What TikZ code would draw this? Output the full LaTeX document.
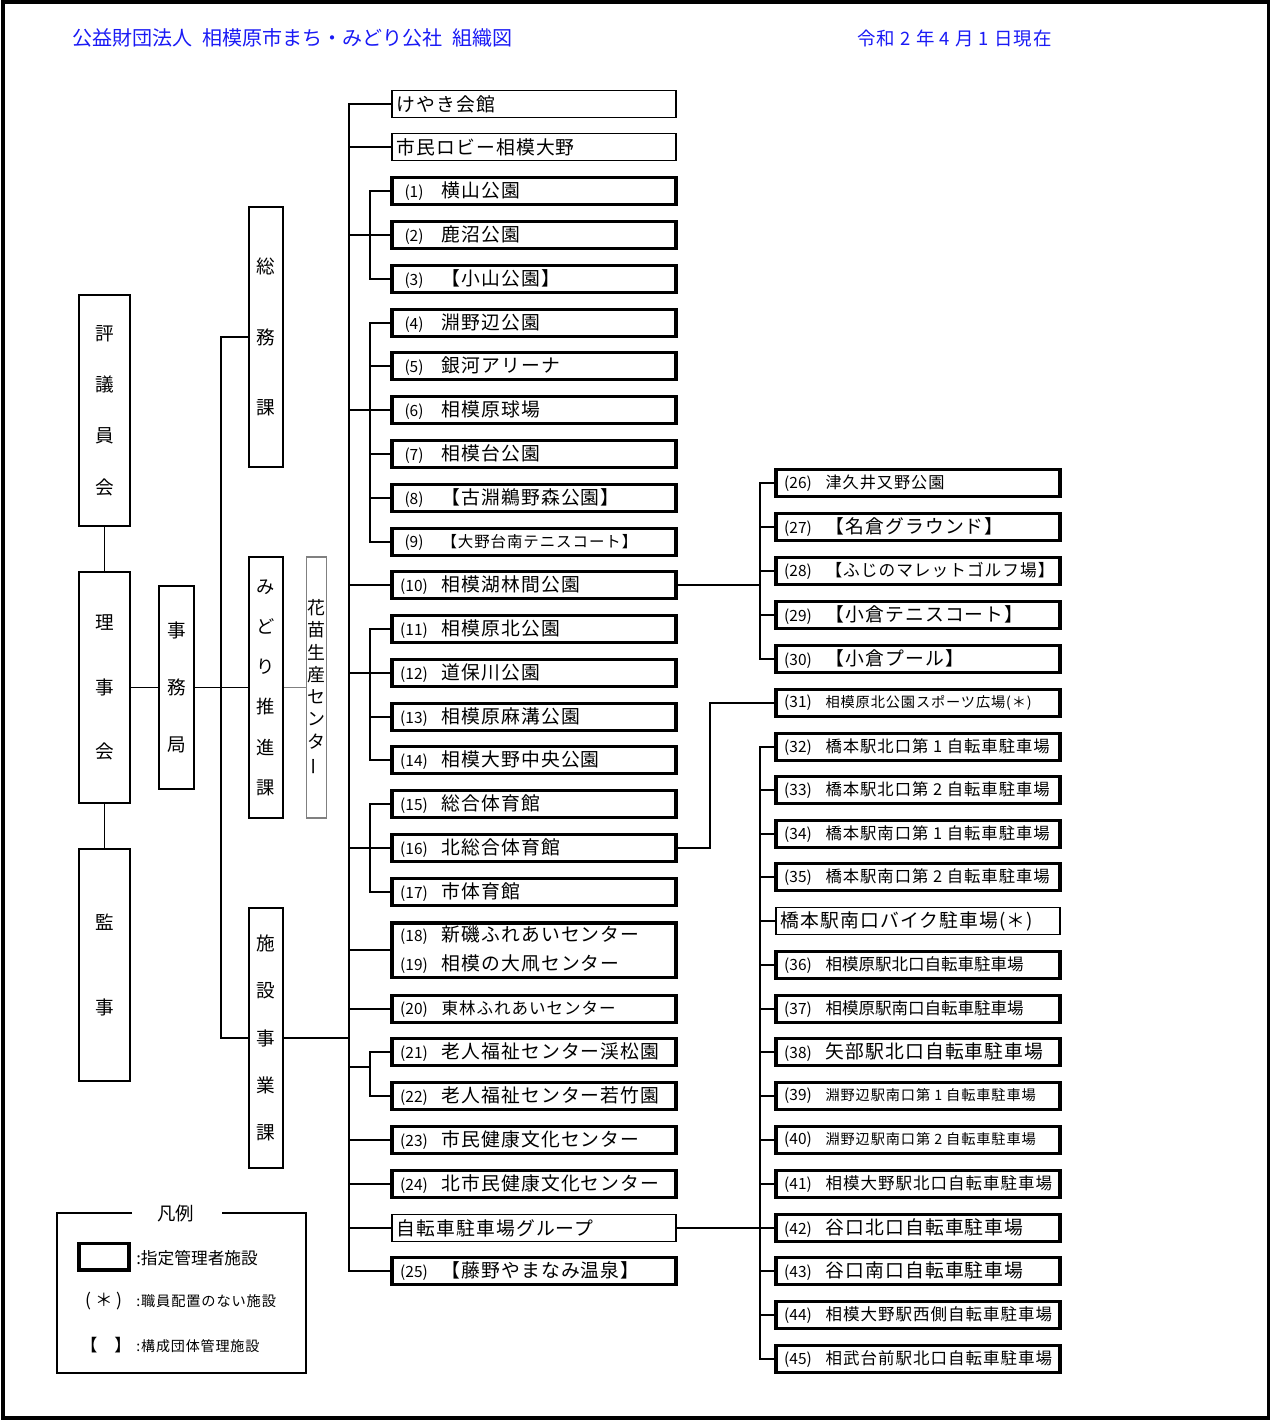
\documentclass[tikz,border=0pt]{standalone}
\usepackage{fontspec}
\setmainfont{Noto Sans CJK JP}
\newfontfamily\jp{Noto Sans CJK JP}
\newfontfamily\jpsp[LetterSpace=6]{Noto Sans CJK JP}
\definecolor{ttlblue}{HTML}{1A1AF5}
\definecolor{subedge}{HTML}{808080}
\newcommand\fsz[2]{\jpsp\fontsize{#1}{#2}\selectfont}
\newcommand\fvz[2]{\jp\fontsize{#1}{#2}\selectfont}
\newcommand\numf{\jp\fontsize{8.8}{10}\selectfont}
\newcommand\nm[2]{\makebox[5.5cm][l]{\makebox[0.7cm][c]{\numf #1}\hspace{0.2cm}#2}}
\newcommand\pl[1]{\makebox[5.5cm][l]{#1}}

\begin{document}
\begin{tikzpicture}[x=0.02cm, y=-0.02cm,
  org/.style={draw, line width=1.2pt, align=center, inner sep=0pt},
  fac/.style={draw, line width=2pt, minimum width=5.68cm, minimum height=0.54cm,
              inner xsep=0.09cm, inner ysep=0pt, font=\fsz{10.7}{12}},
  grp/.style={fac, line width=1.1pt},
  lnk/.style={line width=1.1pt},
  lnkt/.style={line width=0.7pt},
  lab/.style={inner sep=0pt, anchor=west},
]
\useasboundingbox (0,0) rectangle (1272,1421);
\draw[line width=2pt] (3,2) rectangle (1268.5,1418);
% ================= heading ==================================================
\node[lab, text=ttlblue, font=\fvz{11.4}{13}] (title) at (72,38)
  {公益財団法人\hspace{.5em}相模原市まち・みどり公社\hspace{.5em}組織図};
\node[lab, text=ttlblue, font=\fsz{10.5}{12}] (date) at (857,38) {令和 2 年 4 月 1 日現在};
% ================= board / office / sections (left) =========================
\node[org, minimum width=1.02cm, minimum height=4.62cm, font=\fvz{10.6}{29.3}] (hyogi) at (104.5,410.5) {評\\議\\員\\会};
\node[org, minimum width=1.02cm, minimum height=4.62cm, font=\fvz{10.6}{36.6}] (riji) at (104.5,687.5) {理\\事\\会};
\node[org, minimum width=1.02cm, minimum height=4.64cm, font=\fvz{10.6}{48.2}] (kanji) at (104.5,965) {監\\事};
\node[org, minimum width=0.70cm, minimum height=4.06cm, font=\fvz{10.6}{32.6}] (jimu) at (176.5,687.5) {事\\務\\局};
\node[org, minimum width=0.68cm, minimum height=5.20cm, font=\fvz{10.6}{40.3}] (soumu) at (266,337) {総\\務\\課};
\node[org, minimum width=0.68cm, minimum height=5.22cm, font=\fvz{10.4}{22.9}] (midori) at (266,687.5) {み\\ど\\り\\推\\進\\課};
\node[org, minimum width=0.68cm, minimum height=5.20cm, font=\fvz{10.6}{26.9}] (shisetsu) at (266,1038) {施\\設\\事\\業\\課};
\node[org, draw=subedge, line width=1.1pt, minimum width=0.40cm, minimum height=5.22cm,
      font=\fvz{10.2}{12.7}] (kanae) at (316.5,687.5) {花\\苗\\生\\産\\セ\\ン\\タ\\\rotatebox[origin=c]{90}{ー}};
\coordinate (trunk) at (221,688);
\coordinate (spine) at (349,1038);
\draw[lnk] (hyogi.south) -- (riji.north);
\draw[lnk] (riji.south) -- (kanji.north);
\draw[lnk] (riji.east) -- (jimu.west);
\draw[lnk] (jimu.east) -- (midori.west);
\draw[lnk, draw=subedge] (midori.east) -- (kanae.west);
\draw[lnk] (soumu.west) -| (trunk) |- (shisetsu.west);
% ================= facilities (middle column) ===============================
\node[grp] (keyaki) at (534,104) {\pl{けやき会館}};
\node[grp] (lobby) at (534,147) {\pl{市民ロビー相模大野}};
\node[fac] (b1) at (534,191) {\nm{(1)}{横山公園}};
\node[fac] (b2) at (534,235) {\nm{(2)}{鹿沼公園}};
\node[fac] (b3) at (534,279) {\nm{(3)}{【小山公園】}};
\node[fac] (b4) at (534,323) {\nm{(4)}{淵野辺公園}};
\node[fac] (b5) at (534,366) {\nm{(5)}{銀河アリーナ}};
\node[fac] (b6) at (534,410) {\nm{(6)}{相模原球場}};
\node[fac] (b7) at (534,454) {\nm{(7)}{相模台公園}};
\node[fac] (b8) at (534,498) {\nm{(8)}{【古淵鵜野森公園】}};
\node[fac, font=\fsz{8.8}{10}] (b9) at (534,542) {\nm{(9)}{【大野台南テニスコート】}};
\node[fac] (b10) at (534,585) {\nm{(10)}{相模湖林間公園}};
\node[fac] (b11) at (534,629) {\nm{(11)}{相模原北公園}};
\node[fac] (b12) at (534,673) {\nm{(12)}{道保川公園}};
\node[fac] (b13) at (534,717) {\nm{(13)}{相模原麻溝公園}};
\node[fac] (b14) at (534,760) {\nm{(14)}{相模大野中央公園}};
\node[fac] (b15) at (534,804) {\nm{(15)}{総合体育館}};
\node[fac] (b16) at (534,848) {\nm{(16)}{北総合体育館}};
\node[fac] (b17) at (534,892) {\nm{(17)}{市体育館}};
\node[fac, minimum height=1.09cm, align=left, font=\fsz{10.7}{16.4}] (b18) at (534,950)
  {\nm{(18)}{新磯ふれあいセンター}\\\nm{(19)}{相模の大凧センター}};
\node[fac, font=\fsz{9.4}{11}] (b20) at (534,1009) {\nm{(20)}{東林ふれあいセンター}};
\node[fac] (b21) at (534,1052) {\nm{(21)}{老人福祉センター渓松園}};
\node[fac] (b22) at (534,1096) {\nm{(22)}{老人福祉センター若竹園}};
\node[fac] (b23) at (534,1140) {\nm{(23)}{市民健康文化センター}};
\node[fac] (b24) at (534,1184) {\nm{(24)}{北市民健康文化センター}};
\node[grp] (bike) at (534,1228) {\pl{自転車駐車場グループ}};
\node[fac] (b25) at (534,1271) {\nm{(25)}{【藤野やまなみ温泉】}};
% ================= facilities (right column) ================================
\node[fac, font=\fsz{9.2}{11}] (b26) at (918,483) {\nm{(26)}{津久井又野公園}};
\node[fac] (b27) at (918,527) {\nm{(27)}{【名倉グラウンド】}};
\node[fac, font=\fsz{9.5}{11}] (b28) at (918,571) {\nm{(28)}{【ふじのマレットゴルフ場】}};
\node[fac] (b29) at (918,615) {\nm{(29)}{【小倉テニスコート】}};
\node[fac] (b30) at (918,659) {\nm{(30)}{【小倉プール】}};
\node[fac, font=\fsz{8.1}{10}] (b31) at (918,703) {\nm{(31)}{相模原北公園スポーツ広場(＊)}};
\node[fac, font=\fsz{9.3}{11}] (b32) at (918,747) {\nm{(32)}{橋本駅北口第 1 自転車駐車場}};
\node[fac, font=\fsz{9.3}{11}] (b33) at (918,790) {\nm{(33)}{橋本駅北口第 2 自転車駐車場}};
\node[fac, font=\fsz{9.3}{11}] (b34) at (918,834) {\nm{(34)}{橋本駅南口第 1 自転車駐車場}};
\node[fac, font=\fsz{9.3}{11}] (b35) at (918,877) {\nm{(35)}{橋本駅南口第 2 自転車駐車場}};
\node[grp] (hbike) at (918,921) {\pl{橋本駅南口バイク駐車場(＊)}};
\node[fac, font=\fvz{9.4}{11}] (b36) at (918,965) {\nm{(36)}{相模原駅北口自転車駐車場}};
\node[fac, font=\fvz{9.4}{11}] (b37) at (918,1009) {\nm{(37)}{相模原駅南口自転車駐車場}};
\node[fac] (b38) at (918,1052) {\nm{(38)}{矢部駅北口自転車駐車場}};
\node[fac, font=\fsz{8.1}{10}] (b39) at (918,1096) {\nm{(39)}{淵野辺駅南口第 1 自転車駐車場}};
\node[fac, font=\fsz{8.1}{10}] (b40) at (918,1140) {\nm{(40)}{淵野辺駅南口第 2 自転車駐車場}};
\node[fac, font=\fsz{9.4}{11}] (b41) at (918,1184) {\nm{(41)}{相模大野駅北口自転車駐車場}};
\node[fac] (b42) at (918,1228) {\nm{(42)}{谷口北口自転車駐車場}};
\node[fac] (b43) at (918,1271) {\nm{(43)}{谷口南口自転車駐車場}};
\node[fac, font=\fsz{9.4}{11}] (b44) at (918,1315) {\nm{(44)}{相模大野駅西側自転車駐車場}};
\node[fac, font=\fsz{9.4}{11}] (b45) at (918,1359) {\nm{(45)}{相武台前駅北口自転車駐車場}};
% ================= connectors ==============================================
\coordinate (subL) at (370,0);
\coordinate (subR) at (760,0);
\coordinate (j31) at (710,703);
\coordinate (j2122) at (370,1067);
\draw[lnk] (shisetsu.east) -- (spine);
\draw[lnk] (keyaki.west) -| (spine) |- (b25.west);
\draw[lnk] (lobby.west -| spine) -- (lobby.west)
           (b18.west -| spine) -- (b18.west)
           (b20.west -| spine) -- (b20.west)
           (b23.west -| spine) -- (b23.west)
           (b24.west -| spine) -- (b24.west)
           (bike.west -| spine) -- (bike.west);
\draw[lnk] (b1.west) -| (subL |- b3.west) -- (b3.west);
\draw[lnk] (b2.west -| spine) -- (b2.west);
\draw[lnk] (b4.west) -| (subL |- b9.west) -- (b9.west);
\draw[lnk] (b5.west) -- (b5.west -| subL) (b7.west) -- (b7.west -| subL) (b8.west) -- (b8.west -| subL);
\draw[lnk] (b6.west -| spine) -- (b6.west);
\draw[lnkt] (b10.west -| spine) -- (b10.west);
\draw[lnk] (b11.west) -| (subL |- b14.west) -- (b14.west);
\draw[lnk] (b13.west) -- (b13.west -| subL);
\draw[lnk] (b12.west -| spine) -- (b12.west);
\draw[lnk] (b15.west) -| (subL |- b17.west) -- (b17.west);
\draw[lnk] (b16.west -| spine) -- (b16.west);
\draw[lnk] (b21.west) -| (subL |- b22.west) -- (b22.west);
\draw[lnk] (spine |- j2122) -- (j2122);
% right side
\draw[lnkt] (b10.east) -- (b10.east -| subR);
\draw[lnk] (b26.west) -| (subR |- b30.west) -- (b30.west);
\draw[lnk] (b27.west) -- (b27.west -| subR) (b28.west) -- (b28.west -| subR) (b29.west) -- (b29.west -| subR);
\draw[lnk] (b16.east) -| (j31) -- (b31.west);
\draw[lnk] (bike.east) -- (bike.east -| subR);
\draw[lnk] (b32.west) -| (subR |- b45.west) -- (b45.west);
\draw[lnk] (b33.west) -- (b33.west -| subR) (b34.west) -- (b34.west -| subR)
           (b35.west) -- (b35.west -| subR) (hbike.west) -- (hbike.west -| subR)
           (b36.west) -- (b36.west -| subR) (b37.west) -- (b37.west -| subR)
           (b38.west) -- (b38.west -| subR) (b39.west) -- (b39.west -| subR)
           (b40.west) -- (b40.west -| subR) (b41.west) -- (b41.west -| subR)
           (b42.west) -- (b42.west -| subR) (b43.west) -- (b43.west -| subR)
           (b44.west) -- (b44.west -| subR);
% ================= legend ===================================================
\node[font=\fvz{10.5}{12}, inner sep=0pt] (legt) at (175.5,1214) {凡例};
\draw[lnk] (132,1213) -- (57,1213) -- (57,1373) -- (306,1373) -- (306,1213) -- (222,1213);
\node[draw, line width=2pt, minimum width=1.01cm, minimum height=0.53cm] (legbox) at (104,1256.5) {};
\node[lab, font=\fvz{9.5}{11}] (leg1) at (136,1258) {:指定管理者施設};
\node[font=\fvz{10}{11}, inner sep=0pt] (legstar) at (104,1301) {( ＊ )};
\node[lab, font=\fsz{8.1}{10}] (leg2) at (136,1301.5) {:職員配置のない施設};
\node[font=\fvz{9.6}{11}, inner sep=0pt] (legbr) at (106,1345) {【　】};
\node[lab, font=\fsz{8}{10}] (leg3) at (136,1346.5) {:構成団体管理施設};
\end{tikzpicture}
\end{document}
